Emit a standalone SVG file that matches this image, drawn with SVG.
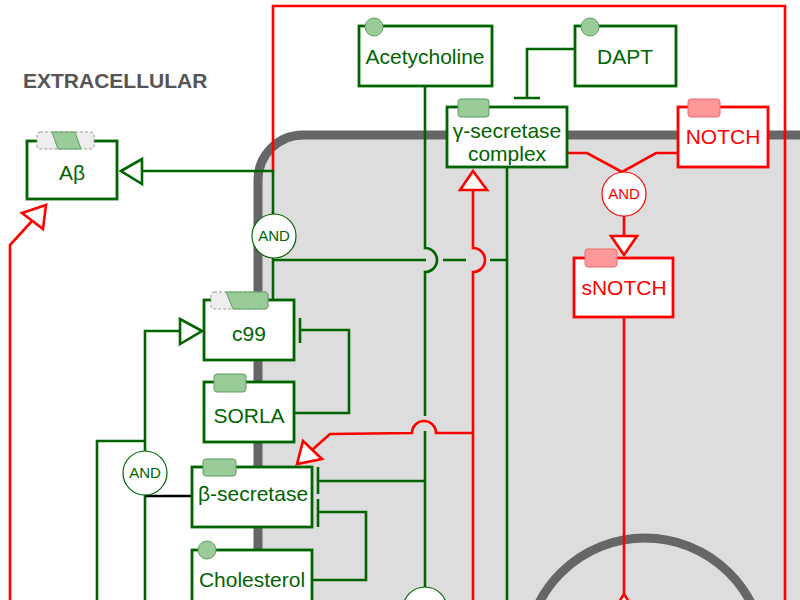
<svg xmlns="http://www.w3.org/2000/svg" width="800" height="600" viewBox="0 0 800 600">
<defs>
<style>
.g{fill:none;stroke:#006400;stroke-width:2.6}
.r{fill:none;stroke:#ff0000;stroke-width:2.6}
.k{fill:none;stroke:#000;stroke-width:2.6}
.gbox{fill:#fff;stroke:#006400;stroke-width:2.8}
.rbox{fill:#fff;stroke:#ff0000;stroke-width:2.8}
.gl{font-family:"Liberation Sans",Arial,sans-serif;font-size:21px;fill:#006400;text-anchor:middle}
.rl{font-family:"Liberation Sans",Arial,sans-serif;font-size:21px;fill:#ff0000;text-anchor:middle}
.and{font-family:"Liberation Sans",Arial,sans-serif;font-size:15px;text-anchor:middle}
.gdec{fill:#99cc99;stroke:#5e9e5e;stroke-width:1}
.rdec{fill:#ff9999;stroke:#ee6666;stroke-width:1}
.dash{fill:#eeeeee;stroke:#999;stroke-width:1;stroke-dasharray:3,2}
.ga{fill:#fff;stroke:#006400;stroke-width:2.6}
.ra{fill:#fff;stroke:#ff0000;stroke-width:2.6}
</style>
</defs>
<rect x="0" y="0" width="800" height="600" fill="#fff"/>
<g id="compartments">
<rect x="258" y="135" width="620" height="600" rx="45" fill="#dddddd" stroke="#666666" stroke-width="9"/>
<circle cx="645" cy="657" r="119" fill="#dddddd" stroke="#666666" stroke-width="9"/>
<text x="23" y="88" font-family="'Liberation Sans',Arial,sans-serif" font-size="21" font-weight="bold" fill="#555555">EXTRACELLULAR</text>
</g>
<g id="connectors">
<!-- red compartment outline / edge -->
<path class="r" d="M273,171 V6 H785 V600"/>
<!-- left red edge to Abeta -->
<path class="r" d="M10,600 V245 L32,221"/>
<polygon class="ra" points="46,205 22,213 43,229"/>
<!-- AND1 to Abeta -->
<path class="g" d="M273,214 V171 H142"/>
<polygon class="ga" points="121,171 142,159 142,184"/>
<!-- c99 to AND1 -->
<path class="g" d="M273,258 V300"/>
<!-- horizontal y=260 from AND1 to gamma vertical -->
<path class="g" d="M273,260 H426 M443,260 H466 M490,260 H507"/>
<!-- Acetylcholine vertical -->
<path class="g" d="M425,86 V248 A12,12 0 0 1 425,272 V416 M425,431 V587"/>
<!-- gamma-secretase bottom vertical -->
<path class="g" d="M507,168 V600"/>
<!-- red vertical to gamma -->
<path class="r" d="M473,600 V272 A12,12 0 0 0 473,248 V190"/>
<polygon class="ra" points="473,171 460,190 487,190"/>
<!-- red branch to beta-secretase -->
<path class="r" d="M473,433 H436 A12,12 0 0 0 412,433 L330,434 L312,450"/>
<polygon class="ra" points="297,464 303,441 322,459"/>
<!-- DAPT inhibits gamma -->
<path class="g" d="M575,49 H527 V98 M514,98 H540"/>
<!-- gamma + NOTCH to AND2 -->
<path class="r" d="M567,153 H587 L622,172 L656,153 H678"/>
<path class="r" d="M624,216 V236"/>
<polygon class="ra" points="611,236 637,236 624,255"/>
<!-- sNOTCH down -->
<path class="r" d="M624,317 V595"/>
<polygon class="ra" points="624,594 614,610 634,610"/>
<!-- SORLA inhibits c99 -->
<path class="g" d="M294,413 H349 V330 H300 M300,318 V343"/>
<!-- Acetylcholine line inhibits beta-secretase -->
<path class="g" d="M425,481 H318 M318,467 V494"/>
<!-- Cholesterol inhibits beta-secretase -->
<path class="g" d="M312,580 H366 V512 H318 M318,499 V527"/>
<!-- AND3 to c99 -->
<path class="g" d="M145,451 V331 H180"/>
<polygon class="ga" points="202,331 180,319 180,344"/>
<path class="g" d="M97,600 V441 H145"/>
<path class="g" d="M145,495 V600"/>
<path class="k" d="M145,496 H192"/>
</g>
<g id="nodes">
<g id="abeta">
<rect class="gbox" x="27" y="141" width="90" height="58"/>
<rect class="dash" x="37" y="132" width="57" height="17" rx="3"/>
<polygon class="gdec" points="52,132 75,132 81,149 58,149"/>
<text class="gl" x="72" y="180">Aβ</text>
</g>
<g id="and1">
<circle cx="274" cy="236" r="22" fill="#fff" stroke="#006400" stroke-width="1.2"/>
<text class="and" x="274" y="241" fill="#006400">AND</text>
</g>
<g id="c99">
<rect class="gbox" x="204" y="300" width="90" height="60"/>
<rect class="dash" x="211" y="292" width="57" height="17" rx="3"/>
<path class="gdec" d="M226,292 H265 Q268,292 268,295 V306 Q268,309 265,309 H233 Z"/>
<text class="gl" x="249" y="341">c99</text>
</g>
<g id="sorla">
<rect class="gbox" x="204" y="382" width="90" height="60"/>
<rect class="gdec" x="214" y="374" width="32" height="18" rx="3"/>
<text class="gl" x="249" y="423">SORLA</text>
</g>
<g id="and3">
<circle cx="145" cy="473" r="22" fill="#fff" stroke="#006400" stroke-width="1.2"/>
<text class="and" x="145" y="478" fill="#006400">AND</text>
</g>
<g id="beta-secretase">
<rect class="gbox" x="192" y="467" width="120" height="60"/>
<rect class="gdec" x="203" y="459" width="33" height="17" rx="3"/>
<text class="gl" x="253" y="501">β-secretase</text>
</g>
<g id="cholesterol">
<rect class="gbox" x="192" y="550" width="120" height="60"/>
<circle class="gdec" cx="207" cy="550" r="9"/>
<text class="gl" x="252" y="587">Cholesterol</text>
</g>
<g id="acetylcholine">
<rect class="gbox" x="359" y="26" width="133" height="60"/>
<circle class="gdec" cx="374" cy="27" r="9"/>
<text class="gl" x="425" y="64">Acetycholine</text>
</g>
<g id="dapt">
<rect class="gbox" x="575" y="26" width="101" height="60"/>
<circle class="gdec" cx="590" cy="27" r="9"/>
<text class="gl" x="625" y="64">DAPT</text>
</g>
<g id="gamma-secretase">
<rect class="gbox" x="447" y="107" width="120" height="60"/>
<rect class="gdec" x="458" y="99" width="31" height="18" rx="3"/>
<text class="gl" x="507" y="138">γ-secretase</text>
<text class="gl" x="507" y="161">complex</text>
</g>
<g id="notch">
<rect class="rbox" x="678" y="107" width="90" height="60"/>
<rect class="rdec" x="688" y="99" width="32" height="18" rx="3"/>
<text class="rl" x="723" y="144">NOTCH</text>
</g>
<g id="and2">
<circle cx="624" cy="194" r="22" fill="#fff" stroke="#ff0000" stroke-width="1.2"/>
<text class="and" x="624" y="199" fill="#ff0000">AND</text>
</g>
<g id="snotch">
<rect class="rbox" x="574" y="258" width="99" height="59"/>
<rect class="rdec" x="585" y="249" width="32" height="18" rx="3"/>
<text class="rl" x="624" y="295">sNOTCH</text>
</g>
<g id="and4">
<circle cx="425" cy="609" r="22" fill="#fff" stroke="#006400" stroke-width="1.2"/>
</g>
</g>
</svg>
